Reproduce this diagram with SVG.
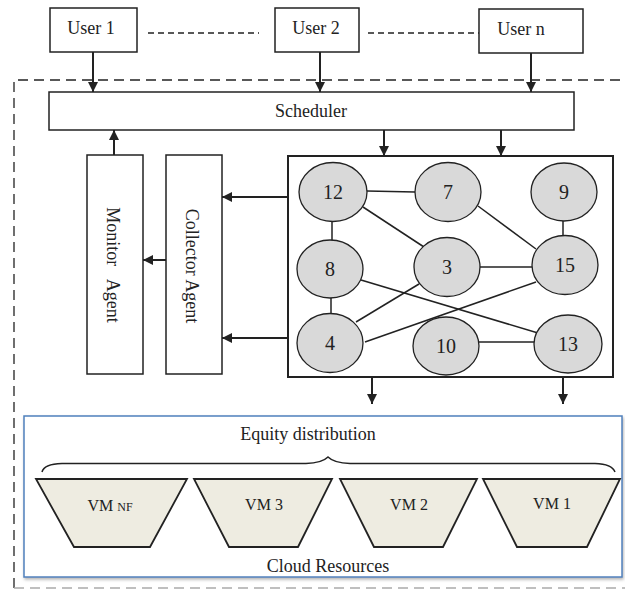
<svg xmlns="http://www.w3.org/2000/svg" width="625" height="589" viewBox="0 0 625 589">
<style>
text{font-family:"Liberation Serif","Times New Roman",serif;fill:#222;}
.box{fill:#fff;stroke:#222;stroke-width:1.5;}
.node ellipse{fill:#d9d9d9;stroke:#222;stroke-width:1.3;}
.node text{font-size:20px;text-anchor:middle;}
.lbl{font-size:18px;text-anchor:middle;}
.edge{stroke:#222;stroke-width:1.5;fill:none;}
.arr{stroke:#222;stroke-width:2;fill:none;marker-end:url(#ah);}
.vm polygon{fill:#eeece1;stroke:#222;stroke-width:1.8;}
.vm text{font-size:16px;text-anchor:middle;}
</style>
<defs>
<marker id="ah" viewBox="0 0 10 10" refX="10" refY="5" markerWidth="5" markerHeight="5" orient="auto" markerUnits="strokeWidth">
<path d="M0,0 L10,5 L0,10 z" fill="#222"/>
</marker>
<filter id="sh" x="-5%" y="-5%" width="110%" height="115%">
<feDropShadow dx="1" dy="2" stdDeviation="1.5" flood-color="#888" flood-opacity="0.6"/>
</filter>
</defs>
<rect width="625" height="589" fill="#fff"/>

<!-- outer dashed boundary -->
<path d="M14,588 L14,80 L625,80" fill="none" stroke="#222" stroke-width="1.3" stroke-dasharray="10,6"/>
<path d="M14,588 L625,588" fill="none" stroke="#aaa" stroke-width="1.3" stroke-dasharray="10,6"/>

<g id="user1"><rect class="box" x="50" y="8" width="87" height="44"/><text class="lbl" x="91" y="34">User 1</text></g>
<g id="user2"><rect class="box" x="275" y="8" width="84" height="44"/><text class="lbl" x="316" y="34">User 2</text></g>
<g id="usern"><rect class="box" x="479" y="9" width="104" height="44"/><text class="lbl" x="521" y="35">User n</text></g>

<g id="scheduler"><rect class="box" x="49" y="92" width="525" height="38"/><text class="lbl" x="311" y="117">Scheduler</text></g>

<g id="monitor"><rect class="box" x="87" y="155" width="56" height="219"/><text class="lbl" transform="translate(107,265) rotate(90)" style="white-space:pre">Monitor   Agent</text></g>
<g id="collector"><rect class="box" x="166" y="155" width="56" height="219"/><text class="lbl" transform="translate(186,266) rotate(90)">Collector Agent</text></g>

<g id="graph"><rect x="288" y="156" width="325" height="221" fill="#fff" stroke="#222" stroke-width="2"/></g>

<g id="edges">
<line class="edge" x1="367" y1="191" x2="415" y2="192"/>
<line class="edge" x1="332" y1="222" x2="332" y2="240"/>
<line class="edge" x1="363" y1="207" x2="424" y2="247"/>
<line class="edge" x1="478" y1="206" x2="536" y2="249"/>
<line class="edge" x1="563" y1="221" x2="563" y2="236"/>
<line class="edge" x1="480" y1="267" x2="532" y2="267"/>
<line class="edge" x1="361" y1="280" x2="538" y2="333"/>
<line class="edge" x1="331" y1="298" x2="331" y2="313"/>
<line class="edge" x1="356" y1="322" x2="419" y2="284"/>
<line class="edge" x1="365" y1="342" x2="536" y2="282"/>
<line class="edge" x1="478" y1="342" x2="534" y2="342"/>
</g>

<g id="n12" class="node"><ellipse cx="333" cy="192" rx="34" ry="29.5"/><text x="333" y="199">12</text></g>
<g id="n7" class="node"><ellipse cx="448" cy="192" rx="33" ry="29.5"/><text x="448" y="199">7</text></g>
<g id="n9" class="node"><ellipse cx="564" cy="192" rx="33" ry="29"/><text x="564" y="199">9</text></g>
<g id="n8" class="node"><ellipse cx="330" cy="269" rx="33" ry="29"/><text x="330" y="276">8</text></g>
<g id="n3" class="node"><ellipse cx="447" cy="267" rx="33" ry="29.5"/><text x="447" y="274">3</text></g>
<g id="n15" class="node"><ellipse cx="565" cy="265" rx="33" ry="29.5"/><text x="565" y="272">15</text></g>
<g id="n4" class="node"><ellipse cx="330" cy="343" rx="33" ry="29.5"/><text x="330" y="350">4</text></g>
<g id="n10" class="node"><ellipse cx="446" cy="346" rx="33" ry="29"/><text x="446" y="353">10</text></g>
<g id="n13" class="node"><ellipse cx="568" cy="344" rx="34" ry="29"/><text x="568" y="351">13</text></g>

<g id="connectors">
<line class="arr" x1="93" y1="52" x2="93" y2="92"/>
<line class="arr" x1="320" y1="52" x2="320" y2="92"/>
<line class="arr" x1="531" y1="53" x2="531" y2="92"/>
<line class="arr" x1="114" y1="155" x2="114" y2="130"/>
<line class="arr" x1="384" y1="130" x2="384" y2="156"/>
<line class="arr" x1="501" y1="130" x2="501" y2="156"/>
<line class="arr" x1="288" y1="197" x2="222" y2="197"/>
<line class="arr" x1="288" y1="338" x2="222" y2="338"/>
<line class="arr" x1="166" y1="260" x2="143" y2="260"/>
<line class="arr" x1="372" y1="377" x2="372" y2="404"/>
<line class="arr" x1="563" y1="377" x2="563" y2="404"/>
<line x1="148" y1="33" x2="259" y2="33" stroke="#222" stroke-width="1.3" stroke-dasharray="6,4"/>
<line x1="368" y1="33" x2="479" y2="33" stroke="#222" stroke-width="1.3" stroke-dasharray="6,4"/>
<line x1="150" y1="547" x2="229" y2="547" stroke="#222" stroke-width="1.5" stroke-dasharray="8,5"/>
</g>

<g id="cloud">
<rect x="24" y="416" width="598" height="161" fill="#fff" stroke="#4f81bd" stroke-width="1.5" filter="url(#sh)"/>
<text class="lbl" x="308" y="440">Equity distribution</text>
<path d="M42,472 Q44,464 62,463.5 L306,463.5 Q322,463 328,457 Q334,463 350,463.5 L595,463.5 Q612,464 615,472" fill="none" stroke="#222" stroke-width="1.5"/>
<g id="vmnf" class="vm"><polygon points="36,479 187,479 150,547 74,547"/><text x="110" y="511">VM <tspan font-size="12">NF</tspan></text></g>
<g id="vm3" class="vm"><polygon points="194,479 332,479 298,547 229,547"/><text x="264" y="510">VM 3</text></g>
<g id="vm2" class="vm"><polygon points="340,479 477,479 443,547 374,547"/><text x="409" y="510">VM 2</text></g>
<g id="vm1" class="vm"><polygon points="483,479 620,479 587,547 517,547"/><text x="552" y="509">VM 1</text></g>
<text class="lbl" x="328" y="572">Cloud Resources</text>
</g>
</svg>
